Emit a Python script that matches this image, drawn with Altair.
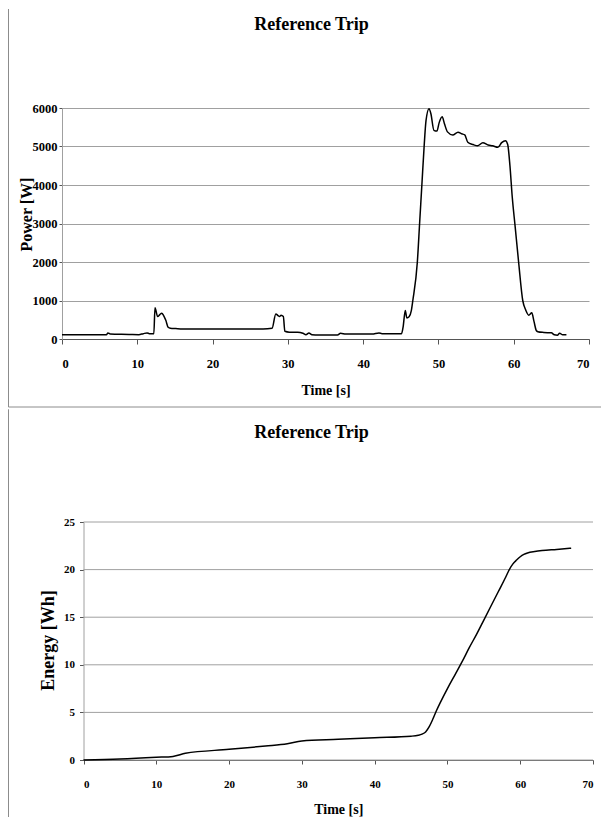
import altair as alt
import pandas as pd

# ---- data ----
power_t = [0, 5.9, 6.1, 6.4, 8.9, 10.2, 10.8, 11.3, 11.6, 12.2, 12.35, 12.7, 13.0, 13.25, 13.5,
           13.8, 14.1, 14.4, 15.1, 16.0, 26.7, 27.9, 28.4, 28.7, 28.9, 29.1, 29.4, 29.6, 30.2,
           31.3, 32.0, 32.4, 32.8, 33.2, 34.1, 36.6, 37.0, 37.7, 41.2, 42.1, 42.5, 45.1, 45.3,
           45.6, 45.8, 46.1, 46.4, 46.6, 47.2, 47.5, 47.8, 48.1, 48.35, 48.75, 49.0, 49.4, 49.8,
           50.1, 50.5, 50.8, 51.2, 51.9, 52.6, 53.1, 53.5, 53.9, 54.6, 55.2, 55.9, 56.6, 57.2,
           57.9, 58.4, 58.9, 59.2, 59.5, 59.8, 60.2, 60.65, 61.2, 61.6, 62.0, 62.4, 62.7, 63.0,
           63.2, 64.0, 65.0, 65.4, 65.8, 66.1, 66.5, 67.0]
power_w = [113, 113, 157, 130, 120, 113, 139, 157, 139, 139, 809, 583, 635, 670, 610,
           478, 304, 278, 270, 261, 261, 278, 652, 609, 583, 617, 583, 200, 178,
           175, 148, 113, 157, 113, 104, 104, 148, 130, 130, 157, 139, 139, 300,
           739, 548, 580, 739, 1000, 2000, 3000, 4000, 5000, 5670, 5980, 5850, 5420, 5400,
           5620, 5770, 5590, 5380, 5300, 5370, 5330, 5300, 5110, 5050, 5020, 5100, 5040, 5020,
           4980, 5100, 5150, 5050, 4500, 3700, 2900, 2000, 1000, 750, 620, 680, 450, 220,
           190, 170, 160, 110, 100, 150, 110, 110]

energy_t = [0, 5, 10, 12.3, 14, 20, 25, 28, 30, 35, 40, 45, 46, 46.5, 47, 47.5, 48, 48.5,
            49, 50, 51, 52, 53, 54, 55, 56, 57, 58, 58.5, 59, 59.5, 60, 60.5, 61, 62, 63,
            65, 67]
energy_wh = [0, 0.1, 0.28, 0.38, 0.7, 1.12, 1.47, 1.71, 2.0, 2.17, 2.34, 2.5, 2.6, 2.72,
             2.95, 3.5, 4.3, 5.2, 6.0, 7.5, 8.9, 10.3, 11.8, 13.2, 14.7, 16.2, 17.7, 19.2,
             20.0, 20.6, 21.0, 21.35, 21.6, 21.75, 21.9, 22.0, 22.12, 22.25]

x_ticks = [0, 10, 20, 30, 40, 50, 60, 70]
power_ticks = [0, 1000, 2000, 3000, 4000, 5000, 6000]
energy_ticks = [0, 5, 10, 15, 20, 25]

title_text = "Reference Trip"
x_title = "Time [s]"
power_title = "Power [W]"
energy_title = "Energy [Wh]"

power_df = pd.DataFrame({"t": power_t, "p": power_w})
energy_df = pd.DataFrame({"t": energy_t, "e": energy_wh})
energy_grid_df = pd.DataFrame({"t": [0] * len(energy_ticks), "t2": [70] * len(energy_ticks),
                               "e": energy_ticks})

FONT = "Liberation Serif"
GRID = "#a0a0a0"
FRAME = "#8c8c8c"
DARK = "#555555"

one = pd.DataFrame({"k": [0]})


def title_mark(x, y):
    return alt.Chart(one).mark_text(
        text=title_text, font=FONT, fontSize=18, fontWeight="bold",
        align="center", baseline="alphabetic", color="black"
    ).encode(x=alt.value(x), y=alt.value(y))


# ---------------- top panel ----------------
TW, TH = 527, 231
top_x_axis = alt.Axis(values=x_ticks, format="d", title=x_title, grid=False,
                      domain=True, domainColor=DARK, tickColor=DARK,
                      tickSize=5, labelPadding=13, labelFontSize=12.5,
                      titleFontSize=14, titleX=TW / 2, titleY=55,
                      titleBaseline="alphabetic", titleAlign="center")
top_y_axis = alt.Axis(values=power_ticks, format="d", title=power_title,
                      grid=True, gridColor=GRID, domain=True, domainColor=GRID,
                      tickColor=DARK, tickSize=3, labelPadding=2,
                      labelFontSize=12.5, titleFontSize=16, titleX=-31,
                      titleY=106, titleBaseline="alphabetic", titleAlign="center",
                      titleAngle=270)
top_line = alt.Chart(power_df).mark_line(color="black", strokeWidth=1.5,
                                         interpolate="monotone").encode(
    x=alt.X("t:Q", scale=alt.Scale(domain=[0, 70], nice=False), axis=top_x_axis),
    y=alt.Y("p:Q", scale=alt.Scale(domain=[0, 6000], nice=False), axis=top_y_axis),
)
top_frame_left = alt.Chart(one).mark_rule(color=FRAME, strokeWidth=1).encode(
    x=alt.value(-53.5), y=alt.value(-99), y2=alt.value(299))
top_frame_bottom = alt.Chart(one).mark_rule(color=FRAME, strokeWidth=1).encode(
    x=alt.value(-53.5), x2=alt.value(539), y=alt.value(299))

top = alt.layer(top_frame_left, top_frame_bottom, title_mark(249.5, -78.5),
                top_line).properties(width=TW, height=TH)

# ---------------- bottom panel ----------------
# its plot area starts 21.5px to the right of the top panel's plot area
SHIFT = 21.5
BPW, BH = 509.5, 238
BW = SHIFT + BPW
xs_b = alt.Scale(domain=[0, 70], nice=False, range=[SHIFT, BW])
ys_b = alt.Scale(domain=[0, 25], nice=False)
bot_x_axis = alt.Axis(values=x_ticks, format="d", title=x_title, grid=False,
                      domain=True, domainColor=DARK, tickColor=DARK,
                      tickSize=4, labelPadding=14, labelFontSize=11,
                      titleFontSize=14, titleX=SHIFT + BPW / 2, titleY=53,
                      titleBaseline="alphabetic", titleAlign="center")
bot_y_axis = alt.Axis(values=energy_ticks, format="d", title=energy_title,
                      grid=False, domain=True, domainColor=GRID, offset=-SHIFT,
                      tickColor=DARK, tickSize=4, labelPadding=5,
                      labelFontSize=11, titleFontSize=18, titleX=-30,
                      titleY=118, titleBaseline="alphabetic", titleAlign="center",
                      titleAngle=270)

bot_grid = alt.Chart(energy_grid_df).mark_rule(color=GRID, strokeWidth=1).encode(
    x=alt.X("t:Q", scale=xs_b, axis=bot_x_axis), x2="t2:Q",
    y=alt.Y("e:Q", scale=ys_b, axis=bot_y_axis))

bot_line = alt.Chart(energy_df).mark_line(color="black", strokeWidth=1.5,
                                          interpolate="monotone").encode(
    x=alt.X("t:Q", scale=xs_b, axis=bot_x_axis),
    y=alt.Y("e:Q", scale=ys_b, axis=bot_y_axis),
)
bot_frame_left = alt.Chart(one).mark_rule(color=FRAME, strokeWidth=1).encode(
    x=alt.value(-53.5), y=alt.value(-112.7), y2=alt.value(295))

bottom = alt.layer(bot_frame_left, bot_grid, title_mark(249.5, -84.4),
                   bot_line).properties(width=BW, height=BH)

chart = alt.vconcat(top, bottom, spacing=0).properties(
    padding=0
).configure_view(stroke=None).configure_axis(
    labelFont=FONT, titleFont=FONT, labelFontWeight="bold", titleFontWeight="bold",
    labelColor="black", titleColor="black"
)

chart.save("out.html", embed_options={"renderer": "svg", "actions": False})
